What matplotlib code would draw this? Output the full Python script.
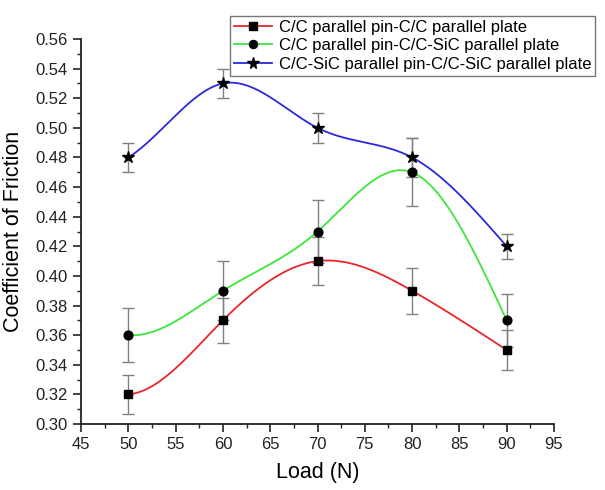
import numpy as np
import matplotlib
matplotlib.use('Agg')
import matplotlib.pyplot as plt
from matplotlib.ticker import MultipleLocator, FormatStrFormatter

plt.rcParams['font.family'] = ['Liberation Sans', 'DejaVu Sans']

# data
loads = [50, 60, 70, 80, 90]
cc_cc = [0.32, 0.37, 0.41, 0.39, 0.35]
cc_cc_err = [0.013, 0.015, 0.016, 0.0155, 0.0135]
cc_ccsic = [0.36, 0.39, 0.43, 0.47, 0.37]
cc_ccsic_err = [0.018, 0.02, 0.021, 0.023, 0.018]
ccsic_ccsic = [0.48, 0.53, 0.50, 0.48, 0.42]
ccsic_ccsic_err = [0.01, 0.01, 0.01, 0.013, 0.0085]

labels = ['C/C parallel pin-C/C parallel plate',
          'C/C parallel pin-C/C-SiC parallel plate',
          'C/C-SiC parallel pin-C/C-SiC parallel plate']
colors = ['#e8262b', '#3ce63c', '#2a2ad8']
markers = ['s', 'o', '*']


def spline(x, y, n=300):
    # C2 cubic through the points, solved for slopes; left end slope from the
    # first two chord slopes, right end natural (close to the Origin look)
    x = np.asarray(x, float)
    y = np.asarray(y, float)
    k = len(x)
    h = np.diff(x)
    d = np.diff(y) / h
    A = np.zeros((k, k))
    b = np.zeros(k)
    A[0, 0] = 1
    b[0] = (d[0] - d[1]) / 2
    for i in range(1, k - 1):
        A[i, i - 1] = h[i]
        A[i, i] = 2 * (h[i - 1] + h[i])
        A[i, i + 1] = h[i - 1]
        b[i] = 3 * (h[i] * d[i - 1] + h[i - 1] * d[i])
    A[-1, -2], A[-1, -1] = 1, 2
    b[-1] = 3 * d[-1]
    m = np.linalg.solve(A, b)
    xs = np.linspace(x[0], x[-1], n)
    idx = np.clip(np.searchsorted(x, xs) - 1, 0, k - 2)
    hh = h[idx]
    t = (xs - x[idx]) / hh
    h00 = 2 * t ** 3 - 3 * t ** 2 + 1
    h10 = t ** 3 - 2 * t ** 2 + t
    h01 = -2 * t ** 3 + 3 * t ** 2
    h11 = t ** 3 - t ** 2
    ys = h00 * y[idx] + h10 * hh * m[idx] + h01 * y[idx + 1] + h11 * hh * m[idx + 1]
    return xs, ys


fig = plt.figure(figsize=(6.05, 4.9), dpi=100)
ax = fig.add_axes([81 / 605, 1 - 424 / 490, (554 - 81) / 605, (424 - 39) / 490])

series = [(cc_cc, cc_cc_err), (cc_ccsic, cc_ccsic_err), (ccsic_ccsic, ccsic_ccsic_err)]
handles = []
for (vals, errs), lab, col, mk in zip(series, labels, colors, markers):
    xs, ys = spline(loads, vals)
    ax.plot(xs, ys, color=col, lw=1.3, zorder=2)
    ax.errorbar(loads, vals, yerr=errs, fmt='none', ecolor='#808080', elinewidth=1,
                capsize=4, capthick=1, zorder=3)
    ms = 9 if mk == '*' else 6.3
    ax.plot(loads, vals, linestyle='none', marker=mk, color='black', ms=ms, zorder=4)
    h, = ax.plot([], [], color=col, lw=1.3, marker=mk, mfc='black', mec='black', ms=ms - 0.5)
    handles.append(h)

ax.set_xlim(45, 95)
ax.set_ylim(0.30, 0.56)
ax.xaxis.set_major_locator(MultipleLocator(5))
ax.xaxis.set_minor_locator(MultipleLocator(2.5))
ax.yaxis.set_major_locator(MultipleLocator(0.02))
ax.yaxis.set_minor_locator(MultipleLocator(0.01))
ax.yaxis.set_major_formatter(FormatStrFormatter('%.2f'))
ax.tick_params(which='major', direction='out', length=6, width=1.2, labelsize=12, colors='#222222')
ax.tick_params(which='minor', direction='out', length=3, width=1.0, colors='#222222')
for side in ['top', 'right']:
    ax.spines[side].set_visible(False)
for side in ['left', 'bottom']:
    ax.spines[side].set_linewidth(1.3)
    ax.spines[side].set_color('#222222')

ax.set_xlabel('Load (N)', fontsize=15.5, labelpad=7)
ax.set_ylabel('Coefficient of Friction', fontsize=15.5, labelpad=8)

leg = fig.legend(handles=handles, labels=labels, loc='upper right', bbox_to_anchor=(0.998, 0.985),
                 fontsize=12, frameon=True, fancybox=False, edgecolor='#555555',
                 handlelength=2.3, handletextpad=0.4, labelspacing=0.2, borderpad=0.25)
leg.get_frame().set_linewidth(1.0)

fig.savefig('out.png', dpi=100)
